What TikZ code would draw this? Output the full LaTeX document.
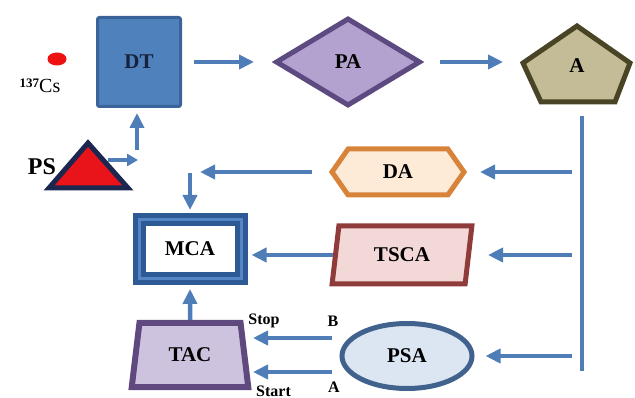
\documentclass[tikz,border=0pt]{standalone}
\usepackage{fontspec}
\setmainfont{Liberation Serif}
\usetikzlibrary{arrows.meta,shapes.geometric,shapes.symbols}
\definecolor{flowblue}{HTML}{4F7DB8}
\definecolor{dtfill}{HTML}{4F81BD}
\definecolor{dtdraw}{HTML}{3A6499}
\definecolor{dttext}{HTML}{17223B}
\definecolor{pafill}{HTML}{B3A2CF}
\definecolor{padraw}{HTML}{5C4A80}
\definecolor{afill}{HTML}{C4BC96}
\definecolor{adraw}{HTML}{4A4426}
\definecolor{dafill}{HTML}{FDEBD8}
\definecolor{dadraw}{HTML}{D7833A}
\definecolor{tscafill}{HTML}{F2D9D8}
\definecolor{tscadraw}{HTML}{8E3B39}
\definecolor{psafill}{HTML}{DCE5F2}
\definecolor{psadraw}{HTML}{42628E}
\definecolor{tacfill}{HTML}{CEC3DE}
\definecolor{tacdraw}{HTML}{60497F}
\definecolor{mcadark}{HTML}{2D5A95}
\definecolor{mcalight}{HTML}{5585C2}
\definecolor{psred}{HTML}{E8141A}
\definecolor{psnavy}{HTML}{1C2750}
\definecolor{csred}{HTML}{EE1111}

\begin{document}
\begin{tikzpicture}[x=1pt,y=-1pt,
        flow/.style={line width=4.5pt,flowblue,-{Triangle[length=15pt,width=14pt]}},
        bus/.style={line width=4.5pt,flowblue},
        lbl/.style={font=\fontsize{21}{24}\selectfont\bfseries,inner sep=0pt},
        small/.style={font=\fontsize{16}{18}\selectfont\bfseries,inner sep=0pt}]
        \useasboundingbox (0,0) rectangle (635,398);
        \node[draw=dtdraw,fill=dtfill,line width=3pt,rounded corners=2pt,minimum width=83,minimum height=89,text=dttext,lbl] (DT) at (139,62) {DT};
        \node[ellipse,fill=csred,minimum width=19,minimum height=13,inner sep=0pt] (Cs) at (57,59) {};
        \node[font=\fontsize{20}{22}\selectfont,inner sep=0pt] (Cslbl) at (40,86) {\raisebox{5pt}{\fontsize{13}{14}\selectfont\bfseries 137}Cs};
        \draw[line width=5pt,draw=psnavy,fill=psred] (49,188) -- (88,143) -- (128,188) -- cycle;
        \node[font=\fontsize{24}{26}\selectfont\bfseries,inner sep=0pt] (PS) at (42,167) {PS};
        \coordinate (psout) at (108,160);
        \coordinate (psjoin) at (138,160);
        \coordinate (psup) at (137,150);
        \draw[line width=4pt,flowblue,-{Triangle[length=11pt,width=12pt]}] (psout) -- (psjoin);
        \draw[flow,shorten >=5pt] (psup) -- (psup |- DT.south);
        \node[diamond,draw=padraw,fill=pafill,line width=5pt,minimum width=145,minimum height=88,lbl] (PA) at (348,62) {PA};
        \draw[flow,shorten <=12pt,shorten >=19pt] (DT.east) -- (PA.west);
        \draw[line width=5pt,draw=adraw,fill=afill] (577,26) -- (630,63) -- (615,102) -- (541,102) -- (523,63) -- cycle;
        \node[lbl] (A) at (577,66) {A};
        \coordinate (Ain) at (503,62);
        \draw[flow,shorten <=17pt] (PA.east) -- (Ain);
        \coordinate (Abot) at (582,116);
        \coordinate (busend) at (582,371);
        \draw[bus] (Abot) -- (busend);
        \node[signal,signal to=west and east,signal pointer angle=110,draw=dadraw,fill=dafill,line width=5pt,minimum width=132,minimum height=46,lbl] (DA) at (398,172) {DA};
        \node[draw=mcadark,double=mcalight,double distance=3pt,line width=5pt,fill=white,minimum width=102,minimum height=59,lbl] (MCA) at (190,249) {MCA};
        \node[trapezium,trapezium left angle=78,trapezium right angle=102,trapezium stretches,draw=tscadraw,fill=tscafill,line width=5pt,minimum width=140,minimum height=58,lbl] (TSCA) at (402,255) {TSCA};
        \node[ellipse,draw=psadraw,fill=psafill,line width=5pt,minimum width=130,minimum height=65,lbl] (PSA) at (407,356) {PSA};
        \node[trapezium,trapezium left angle=77,trapezium right angle=77,trapezium stretches,draw=tacdraw,fill=tacfill,line width=6pt,minimum width=117,minimum height=64,lbl] (TAC) at (190,355) {TAC};
        \draw[flow,shorten <=10pt,shorten >=13pt] (busend |- DA.east) -- (DA.east);
        \draw[flow,shorten <=10pt,shorten >=17pt] (busend |- TSCA.east) -- (TSCA.east);
        \draw[flow,shorten <=10pt,shorten >=11pt] (busend |- PSA.east) -- (PSA.east);
        \coordinate (daend) at (200,172);
        \coordinate (mcadrop) at (190,173);
        \draw[flow,shorten <=17pt] (DA.west) -- (daend);
        \draw[flow,shorten >=7pt] (mcadrop) -- (MCA.north);
        \draw[flow,shorten >=8pt] (TSCA.west) -- (MCA.east |- TSCA.west);
        \draw[flow,shorten >=8pt] (TAC.north) -- (MCA.south);
        \coordinate (bout) at (332,338);
        \coordinate (stopin) at (253,338);
        \coordinate (aout) at (332,372);
        \coordinate (startin) at (253,372);
        \draw[flow] (bout) -- (stopin);
        \draw[flow] (aout) -- (startin);
        \node[small] (stop) at (264,321) {Stop};
        \node[small,anchor=base west] (start) at (256,396) {Start};
        \node[small] (bpin) at (333,321) {B};
        \node[small] (apin) at (334,387) {A};
    \end{tikzpicture}
\end{document}
